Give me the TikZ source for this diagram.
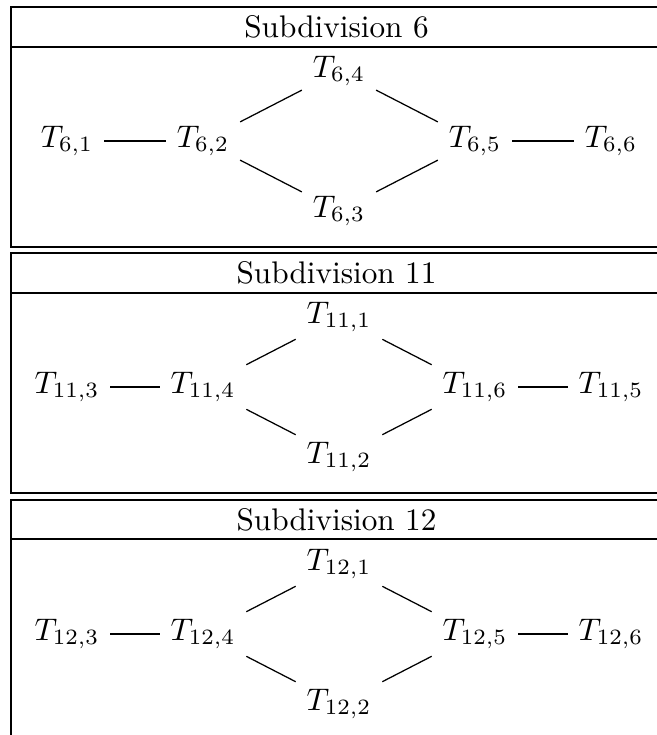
\documentclass[tikz,border=0pt]{standalone}
\begin{document}
\begin{tikzpicture}[x=0.32pt,y=-0.32pt,
  tn/.style={inner sep=3.33pt,font=\fontsize{10}{12}\selectfont},
  ttl/.style={inner sep=0pt,font=\fontsize{10}{12}\selectfont},
  panel/.style={draw=black,line width=0.4pt},
  conn/.style={draw=black,line width=0.4pt}]
\useasboundingbox (0,0) rectangle (657,735);
\clip (0,0) rectangle (657,735);
% Panel 1
\begin{scope}[shift={(0,7)}]
  \draw[panel] (11,0) rectangle (680,240);
  \draw[panel] (11,40) -- (680,40);
  \node[ttl] (h1) at (336.5,20) {Subdivision 6};
  \node[tn] (a1) at (67,134) {$T_{6,1}$};
  \node[tn] (a2) at (203,134) {$T_{6,2}$};
  \node[tn] (a4) at (339,64) {$T_{6,4}$};
  \node[tn] (a3) at (339,204) {$T_{6,3}$};
  \node[tn] (a5) at (475,134) {$T_{6,5}$};
  \node[tn] (a6) at (611,134) {$T_{6,6}$};
  \draw[conn] (a1) -- (a2);
  \draw[conn] (a2) -- (a4);
  \draw[conn] (a2) -- (a3);
  \draw[conn] (a4) -- (a5);
  \draw[conn] (a3) -- (a5);
  \draw[conn] (a5) -- (a6);
\end{scope}
% Panel 2
\begin{scope}[shift={(0,253)}]
  \draw[panel] (11,0) rectangle (680,240);
  \draw[panel] (11,40) -- (680,40);
  \node[ttl] (h2) at (336.5,20) {Subdivision 11};
  \node[tn] (b3) at (67,134) {$T_{11,3}$};
  \node[tn] (b4) at (203,134) {$T_{11,4}$};
  \node[tn] (b1) at (339,64) {$T_{11,1}$};
  \node[tn] (b2) at (339,204) {$T_{11,2}$};
  \node[tn] (b6) at (475,134) {$T_{11,6}$};
  \node[tn] (b5) at (611,134) {$T_{11,5}$};
  \draw[conn] (b3) -- (b4);
  \draw[conn] (b4) -- (b1);
  \draw[conn] (b4) -- (b2);
  \draw[conn] (b1) -- (b6);
  \draw[conn] (b2) -- (b6);
  \draw[conn] (b6) -- (b5);
\end{scope}
% Panel 3
\begin{scope}[shift={(0,500)}]
  \draw[panel] (11,0) rectangle (680,240);
  \draw[panel] (11,39) -- (680,39);
  \node[ttl] (h3) at (336.5,19.5) {Subdivision 12};
  \node[tn] (c3) at (67,134) {$T_{12,3}$};
  \node[tn] (c4) at (203,134) {$T_{12,4}$};
  \node[tn] (c1) at (339,64) {$T_{12,1}$};
  \node[tn] (c2) at (339,204) {$T_{12,2}$};
  \node[tn] (c5) at (475,134) {$T_{12,5}$};
  \node[tn] (c6) at (611,134) {$T_{12,6}$};
  \draw[conn] (c3) -- (c4);
  \draw[conn] (c4) -- (c1);
  \draw[conn] (c4) -- (c2);
  \draw[conn] (c1) -- (c5);
  \draw[conn] (c2) -- (c5);
  \draw[conn] (c5) -- (c6);
\end{scope}
\end{tikzpicture}
\end{document}
